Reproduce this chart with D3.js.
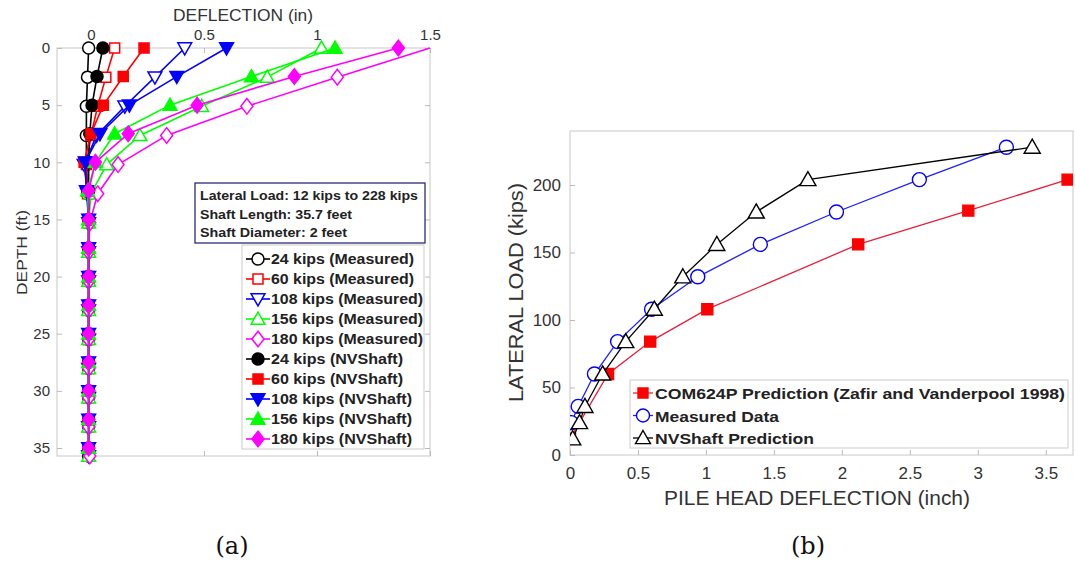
<!DOCTYPE html>
<html><head><meta charset="utf-8">
<script src="https://cdn.jsdelivr.net/npm/d3@7"></script>
<style>body{margin:0;background:#fff;} svg{display:block;}</style>
</head><body>
<svg id="c" width="1075" height="562"></svg>
<script>
// ---------- Data: chart (a) ----------
const depthMeasured = [0,2.55,5.1,7.65,10.2,12.75,15.3,17.85,20.4,22.95,25.5,28.05,30.6,33.15,35.7];
const depthNVShaft  = [0,2.5,5,7.5,10,12.5,15,17.5,20,22.5,25,27.5,30,32.5,35];
const m24  = [-0.01,-0.015,-0.02,-0.02,-0.02,-0.015,-0.01,-0.01,-0.01,-0.01,-0.01,-0.01,-0.01,-0.01,-0.01];
const m60  = [0.105,0.066,0.03,0.0,-0.02,-0.015,-0.01,-0.01,-0.01,-0.01,-0.01,-0.01,-0.01,-0.01,-0.01];
const m108 = [0.415,0.283,0.15,0.025,-0.03,-0.015,-0.01,-0.01,-0.01,-0.01,-0.01,-0.01,-0.01,-0.01,-0.01];
const m156 = [1.02,0.78,0.49,0.217,0.07,0.0,-0.01,-0.01,-0.01,-0.01,-0.01,-0.01,-0.01,-0.01,-0.01];
const m180 = [1.5,1.09,0.69,0.335,0.12,0.03,-0.005,-0.01,-0.01,-0.01,-0.01,-0.01,-0.01,-0.01,-0.005];
const n24  = [0.053,0.027,0.005,-0.005,-0.01,-0.01,-0.01,-0.01,-0.01,-0.01,-0.01,-0.01,-0.01,-0.01,-0.01];
const n60  = [0.235,0.143,0.055,0.0,-0.03,-0.015,-0.01,-0.01,-0.01,-0.01,-0.01,-0.01,-0.01,-0.01,-0.01];
const n108 = [0.60,0.38,0.17,0.04,-0.025,-0.02,-0.01,-0.01,-0.01,-0.01,-0.01,-0.01,-0.01,-0.01,-0.01];
const n156 = [1.08,0.71,0.35,0.105,0.02,-0.015,-0.01,-0.01,-0.01,-0.01,-0.01,-0.01,-0.01,-0.01,-0.01];
const n180 = [1.36,0.90,0.47,0.165,0.02,-0.01,-0.01,-0.01,-0.01,-0.01,-0.01,-0.01,-0.01,-0.01,-0.01];
const seriesA = [
  {name:"24 kips (Measured)",  vals:m24,  depth:depthMeasured, color:"#000000", shape:"circle",  filled:false, w:143},
  {name:"60 kips (Measured)",  vals:m60,  depth:depthMeasured, color:"#ff0000", shape:"square",  filled:false, w:143},
  {name:"108 kips (Measured)", vals:m108, depth:depthMeasured, color:"#0000ff", shape:"tridown", filled:false, w:152},
  {name:"156 kips (Measured)", vals:m156, depth:depthMeasured, color:"#00ff00", shape:"triup",   filled:false, w:152},
  {name:"180 kips (Measured)", vals:m180, depth:depthMeasured, color:"#ff00ff", shape:"diamond", filled:false, w:152},
  {name:"24 kips (NVShaft)",   vals:n24,  depth:depthNVShaft,  color:"#000000", shape:"circle",  filled:true,  w:132},
  {name:"60 kips (NVShaft)",   vals:n60,  depth:depthNVShaft,  color:"#ff0000", shape:"square",  filled:true,  w:132},
  {name:"108 kips (NVShaft)",  vals:n108, depth:depthNVShaft,  color:"#0000ff", shape:"tridown", filled:true,  w:141},
  {name:"156 kips (NVShaft)",  vals:n156, depth:depthNVShaft,  color:"#00ff00", shape:"triup",   filled:true,  w:141},
  {name:"180 kips (NVShaft)",  vals:n180, depth:depthNVShaft,  color:"#ff00ff", shape:"diamond", filled:true,  w:141}
];
const xTicksA = [0,0.5,1,1.5];
const yTicksA = [0,5,10,15,20,25,30,35];
const infoLines = ["Lateral Load: 12 kips to 228 kips","Shaft Length: 35.7 feet","Shaft Diameter: 2 feet"];
const infoWidths = [218,152,147];

// ---------- Data: chart (b) ----------
const comDefl  = [0.0,0.28,0.59,1.01,2.12,2.93,3.66];
const comLoad  = [12,60,84,108,156,181,204];
const measDefl = [0.01,0.06,0.18,0.35,0.60,0.94,1.40,1.96,2.57,3.21];
const measLoad = [24,36,60,84,108,132,156,180,204,228];
const nvDefl   = [0.02,0.07,0.11,0.24,0.41,0.62,0.83,1.08,1.37,1.75,3.40];
const nvLoad   = [12,24,36,60,84,108,132,156,180,204,228];
const xTicksB = [0,0.5,1,1.5,2,2.5,3,3.5];
const yTicksB = [0,50,100,150,200];

const svg = d3.select("#c");
const FONT = "Arial, 'Liberation Sans', Helvetica, sans-serif";
function fit(sel, w){ return sel.attr("textLength", w).attr("lengthAdjust","spacingAndGlyphs"); }

function shapePath(shape, s){
  const h = s/2;
  switch(shape){
    case "square": return `M${-h},${-h}H${h}V${h}H${-h}Z`;
    case "triup": { const a=h*1.15; return `M0,${-a}L${a},${a*0.75}L${-a},${a*0.75}Z`; }
    case "tridown": { const a=h*1.15; return `M0,${a}L${a},${-a*0.75}L${-a},${-a*0.75}Z`; }
    case "diamond": return `M0,${-h*1.3}L${h},0L0,${h*1.3}L${-h},0Z`;
    default: return d3.arc()({innerRadius:0,outerRadius:h,startAngle:0,endAngle:2*Math.PI});
  }
}
function marker(g, x, y, shape, s, color, filled, sw){
  g.append("path").attr("d", shapePath(shape, s)).attr("transform",`translate(${x},${y})`)
    .attr("fill", filled ? color : "#fff").attr("stroke", color).attr("stroke-width", sw||1.5);
}

// ================= Chart (a) =================
const A = {l:57, r:430, t:48, b:456};
const xA = d3.scaleLinear().domain([-0.15,1.5]).range([A.l,A.r]);
const yA = d3.scaleLinear().domain([0,35.7]).range([A.t,A.b]);
const ga = svg.append("g");
ga.append("rect").attr("x",A.l).attr("y",A.t).attr("width",A.r-A.l).attr("height",A.b-A.t)
  .attr("fill","#fff").attr("stroke","#c8c8c8").attr("stroke-width",1);
const axTop = ga.append("g").attr("transform",`translate(0,${A.t})`)
  .call(d3.axisTop(xA).tickValues(xTicksA).tickSize(-5).tickPadding(8).tickFormat(d3.format("")));
const axLeft = ga.append("g").attr("transform",`translate(${A.l},0)`)
  .call(d3.axisLeft(yA).tickValues(yTicksA).tickSize(-5).tickPadding(7).tickFormat(d3.format("")));
const axRight = ga.append("g").attr("transform",`translate(${A.r},0)`)
  .call(d3.axisRight(yA).tickValues(yTicksA).tickSize(-5).tickFormat(""));
const axBot = ga.append("g").attr("transform",`translate(0,${A.b})`)
  .call(d3.axisBottom(xA).tickValues(xTicksA).tickSize(-5).tickFormat(""));
[axTop,axLeft,axRight,axBot].forEach(a=>{
  a.select(".domain").remove();
  a.selectAll(".tick line").attr("stroke","#bbb");
  a.selectAll("text").attr("font-family",FONT).attr("font-size",15).attr("fill","#333");
});
fit(ga.append("text").attr("x",173).attr("y",21).attr("font-family",FONT)
  .attr("font-size",16).attr("fill","#333").text("DEFLECTION (in)"), 140);
fit(ga.append("text").attr("transform",`translate(27,295) rotate(-90)`)
  .attr("font-family",FONT).attr("font-size",15).attr("fill","#333").text("DEPTH (ft)"), 85);

const plotA = ga.append("g");
seriesA.forEach(s=>{
  const pts = s.vals.map((v,i)=>[xA(v), yA(s.depth[i])]);
  plotA.append("path").attr("d", d3.line()(pts)).attr("fill","none").attr("stroke",s.color).attr("stroke-width",1.6);
  pts.forEach(p=>{ if(p[0] <= A.r-2) marker(plotA, p[0], p[1], s.shape, s.shape==="square"?10:12, s.color, s.filled, 1.5); });
});
// info box
const ib = ga.append("g");
ib.append("rect").attr("x",195).attr("y",183).attr("width",230).attr("height",60)
  .attr("fill","#fff").attr("stroke","#2b2b7a").attr("stroke-width",1.3);
infoLines.forEach((t,i)=>fit(ib.append("text").attr("x",200).attr("y",200+i*18.5)
  .attr("font-family",FONT).attr("font-weight","bold").attr("font-size",12.5).attr("fill","#222").text(t), infoWidths[i]));
// legend
const lg = ga.append("g");
lg.append("rect").attr("x",242).attr("y",245).attr("width",182).attr("height",204)
  .attr("fill","#fff").attr("stroke","#ccc").attr("stroke-width",1);
seriesA.forEach((s,i)=>{
  const y = 259 + i*20;
  lg.append("line").attr("x1",246).attr("x2",270).attr("y1",y).attr("y2",y).attr("stroke",s.color).attr("stroke-width",1.6);
  marker(lg, 258, y, s.shape, s.shape==="square"?10:12, s.color, s.filled, 1.5);
  fit(lg.append("text").attr("x",271).attr("y",y+5).attr("font-family",FONT).attr("font-weight","bold")
    .attr("font-size",14).attr("fill","#222").text(s.name), s.w);
});

// ================= Chart (b) =================
const B = {l:570, r:1073, t:131, b:455};
const xB = d3.scaleLinear().domain([0,3.7]).range([B.l,B.r]);
const yB = d3.scaleLinear().domain([0,240]).range([B.b,B.t]);
const gb = svg.append("g");
gb.append("rect").attr("x",B.l).attr("y",B.t).attr("width",B.r-B.l).attr("height",B.b-B.t)
  .attr("fill","#fff").attr("stroke","#c8c8c8").attr("stroke-width",1);
const bx = gb.append("g").attr("transform",`translate(0,${B.b})`)
  .call(d3.axisBottom(xB).tickValues(xTicksB).tickSize(-5).tickPadding(12).tickFormat(d3.format("")));
const by = gb.append("g").attr("transform",`translate(${B.l},0)`)
  .call(d3.axisLeft(yB).tickValues(yTicksB).tickSize(-5).tickPadding(9).tickFormat(d3.format("")));
[bx,by].forEach(a=>{
  a.select(".domain").remove();
  a.selectAll(".tick line").attr("stroke","#bbb");
  a.selectAll("text").attr("font-family",FONT).attr("font-size",17).attr("fill","#333");
});
fit(gb.append("text").attr("x",664).attr("y",505).attr("font-family",FONT)
  .attr("font-size",20).attr("fill","#333").text("PILE HEAD DEFLECTION (inch)"), 306);
fit(gb.append("text").attr("transform",`translate(523,402) rotate(-90)`)
  .attr("font-family",FONT).attr("font-size",20).attr("fill","#333").text("LATERAL LOAD (kips)"), 219);

svg.append("clipPath").attr("id","clipB").append("rect")
  .attr("x",B.l).attr("y",B.t).attr("width",B.r-B.l).attr("height",B.b-B.t);
const plotB = gb.append("g").attr("clip-path","url(#clipB)");
const seriesB = [
  {name:"COM624P Prediction (Zafir and Vanderpool 1998)", xs:comDefl, ys:comLoad, color:"#ff0000", line:"#e8203a", shape:"square", filled:true, size:11, w:410},
  {name:"Measured Data", xs:measDefl, ys:measLoad, color:"#0000ff", line:"#2020ff", shape:"circle", filled:false, size:14, w:124},
  {name:"NVShaft Prediction", xs:nvDefl, ys:nvLoad, color:"#000000", line:"#000000", shape:"triup", filled:false, size:14, w:159}
];
seriesB.forEach(s=>{
  const pts = s.xs.map((v,i)=>[xB(v), yB(s.ys[i])]);
  plotB.append("path").attr("d", d3.line()(pts)).attr("fill","none").attr("stroke",s.line).attr("stroke-width",1.3);
  pts.forEach(p=>marker(plotB, p[0], p[1], s.shape, s.size, s.color, s.filled, 1.4));
});
const lgb = gb.append("g");
lgb.append("rect").attr("x",630).attr("y",380).attr("width",438).attr("height",68)
  .attr("fill","#fff").attr("stroke","#ccc").attr("stroke-width",1);
seriesB.forEach((s,i)=>{
  const y = 393 + i*22.5;
  lgb.append("line").attr("x1",633).attr("x2",653).attr("y1",y).attr("y2",y).attr("stroke",s.line).attr("stroke-width",1.3);
  marker(lgb, 643, y, s.shape, s.shape==="square"?10:13, s.color, s.filled, 1.4);
  fit(lgb.append("text").attr("x",655).attr("y",y+6).attr("font-family",FONT).attr("font-weight","bold")
    .attr("font-size",15.5).attr("fill","#222").text(s.name), s.w);
});

// captions
svg.append("text").attr("x",232).attr("y",554).attr("text-anchor","middle").attr("font-family","'DejaVu Serif', 'Liberation Serif', serif")
  .attr("font-size",24).attr("fill","#111").text("(a)");
svg.append("text").attr("x",808).attr("y",554).attr("text-anchor","middle").attr("font-family","'DejaVu Serif', 'Liberation Serif', serif")
  .attr("font-size",24).attr("fill","#111").text("(b)");
</script>
</body></html>
